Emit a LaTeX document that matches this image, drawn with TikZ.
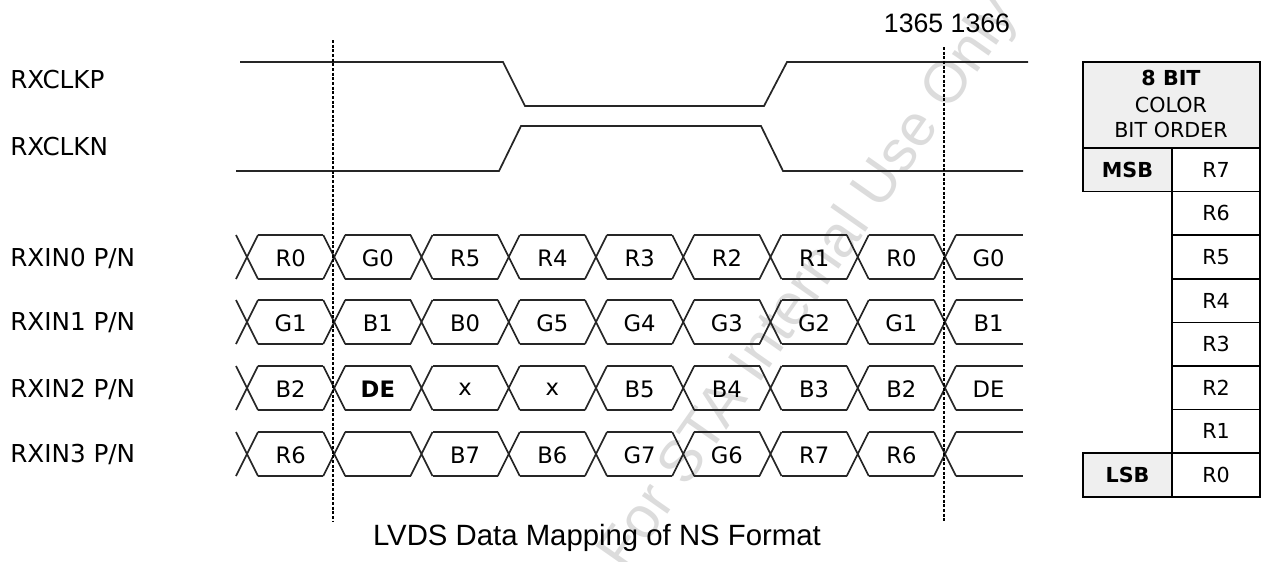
\documentclass[tikz,border=0pt]{standalone}
\usepackage{fontspec}
\setmainfont{DejaVu Sans}
\newfontfamily\capfont{Liberation Sans}
\definecolor{cellgray}{HTML}{EFEFEF}
\definecolor{stampgray}{HTML}{DCDCDC}

\begin{document}
\begin{tikzpicture}[x=0.75pt, y=-0.75pt,
    wave/.style={line width=1.3pt, black!85},
    marker/.style={line width=1.1pt, dash pattern=on 2.2pt off 1.3pt},
    sig/.style={anchor=west, inner sep=0pt, font=\fontsize{18.5}{20}\selectfont},
    dat/.style={font=\fontsize{17}{19}\selectfont},
    tab/.style={font=\fontsize{15.5}{17}\selectfont},
    tabbold/.style={font=\bfseries\fontsize{15.5}{17}\selectfont}]
    \useasboundingbox (0,0) rectangle (1262,561);

    % watermark
    \node[text=stampgray, rotate=55, font=\capfont\fontsize{44}{48}\selectfont] (stamp) at (810,285) {For STA Internal Use Only};

    % signal names
    \node[sig] (clkp) at (10,80) {RXCLKP};
    \node[sig] (clkn) at (10,147) {RXCLKN};
    \node[sig] (in0) at (10,258) {RXIN0 P/N};
    \node[sig] (in1) at (10,323) {RXIN1 P/N};
    \node[sig] (in2) at (10,389) {RXIN2 P/N};
    \node[sig] (in3) at (10,454) {RXIN3 P/N};

    % clock pair
    \draw[wave] (240,62) -- (503,62) -- (525,106) -- (764,106) -- (787,62) -- (1028,62); % P
    \draw[wave] (236,171) -- (499,171) -- (521,126) -- (761,126) -- (783,171) -- (1023,171); % N

    % data lanes
    \foreach \y in {257,322,388,454}{
        \foreach \k in {0,...,8}{
            \pgfmathsetmacro\cx{247+87.25*\k}
            \draw[wave] (\cx-11,\y-22) -- (\cx+11,\y+22) (\cx-11,\y+22) -- (\cx+11,\y-22);
        }
        \foreach \k in {0,...,7}{
            \pgfmathsetmacro\cx{247+87.25*\k}
            \draw[wave] (\cx+11,\y-22) -- (\cx+76.25,\y-22) (\cx+11,\y+22) -- (\cx+76.25,\y+22);
        }
        \draw[wave] (956,\y-22) -- (1023,\y-22) (956,\y+22) -- (1023,\y+22); % tail
    }

    \foreach \t [count=\k from 0] in {R0,G0,R5,R4,R3,R2,R1,R0,G0}
        \node[dat] (a\k) at ({290.6+87.25*\k},258) {\t};
    \foreach \t [count=\k from 0] in {G1,B1,B0,G5,G4,G3,G2,G1,B1}
        \node[dat] (b\k) at ({290.6+87.25*\k},323) {\t};
    \foreach \t [count=\k from 0] in {B2,\textbf{DE},x,x,B5,B4,B3,B2,DE}
        \node[dat] (c\k) at ({290.6+87.25*\k},389) {\t};
    \foreach \k/\t in {0/R6,2/B7,3/B6,4/G7,5/G6,6/R7,7/R6}
        \node[dat] (d\k) at ({290.6+87.25*\k},455) {\t};

    % frame markers
    \draw[marker] (333,40) -- (333,522);
    \draw[marker] (944,47) -- (944,522);
    \node[font=\capfont\fontsize{20}{22}\selectfont, anchor=base] (cnt) at (947,32) {1365 1366};

    % bit order table
    \filldraw[fill=cellgray, line width=1.3pt] (1083,62) rectangle (1260,148);
    \node[tabbold] (hd1) at (1171,78) {8 BIT};
    \node[tab] (hd2) at (1171,105) {COLOR};
    \node[tab] (hd3) at (1171,130) {BIT ORDER};
    \foreach \t [count=\i from 0] in {R7,R6,R5,R4,R3,R2,R1,R0}{
        \draw[line width=1.3pt] (1172,{148+43.6*\i}) rectangle (1260,{191.6+43.6*\i});
        \node[tab] (bit\i) at (1216,{169.8+43.6*\i}) {\t};
    }
    \filldraw[fill=cellgray, line width=1.3pt] (1083,148) rectangle (1172,191.6);
    \node[tabbold] (msb) at (1127.5,170) {MSB};
    \filldraw[fill=cellgray, line width=1.3pt] (1083,453.2) rectangle (1172,496.8);
    \node[tabbold] (lsb) at (1127.5,475) {LSB};

    % caption
    \node[font=\capfont\fontsize{22}{24}\selectfont, anchor=base] (title) at (597,545) {LVDS Data Mapping of NS Format};
\end{tikzpicture}
\end{document}
